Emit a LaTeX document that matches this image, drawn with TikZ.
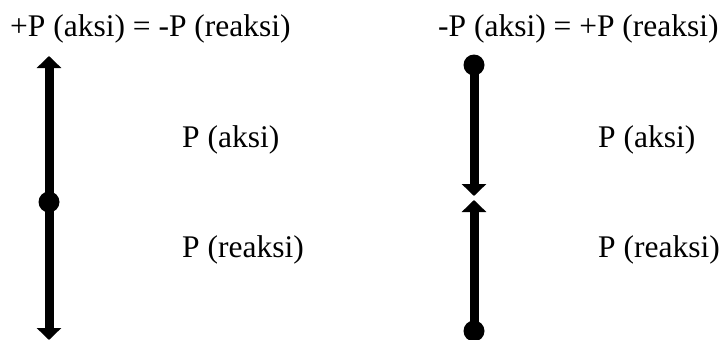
\documentclass[tikz,border=0pt]{standalone}
\usepackage{fontspec}
\setmainfont{Liberation Serif}
\usetikzlibrary{arrows.meta}
\begin{document}
\begin{tikzpicture}[x=1pt,y=-1pt,
  lbl/.style={anchor=base west, inner sep=0pt, font=\fontsize{31.5}{36}\selectfont},
  dot/.style={circle, fill=black, inner sep=0pt, minimum size=21pt},
  force/.style={line width=9pt, -{Triangle[length=12pt 0 0, width=24pt 0 0]}}]
\useasboundingbox (0,0) rectangle (724,340);
% left
\coordinate (ltop) at (49,56);
\coordinate (lbot) at (49,340);
\node[dot] (ldot) at (49,202) {};
\draw[force] (ldot.center) -- (ltop);
\draw[force] (ldot.center) -- (lbot);
% right
\node[dot] (rtop) at (474,65) {};
\node[dot] (rbot) at (474,331) {};
\coordinate (rmida) at (474,196);
\coordinate (rmidb) at (474,200);
\draw[force] (rtop.center) -- (rmida);
\draw[force] (rbot.center) -- (rmidb);
% labels
\node[lbl] (tl) at (10,37) {+P (aksi) = -P (reaksi)};
\node[lbl] (tr) at (438,37) {-P (aksi) = +P (reaksi)};
\node[lbl] (la) at (182,147) {P (aksi)};
\node[lbl] (lr) at (182,257) {P (reaksi)};
\node[lbl] (ra) at (598,147) {P (aksi)};
\node[lbl] (rr) at (598,257) {P (reaksi)};
\end{tikzpicture}
\end{document}
